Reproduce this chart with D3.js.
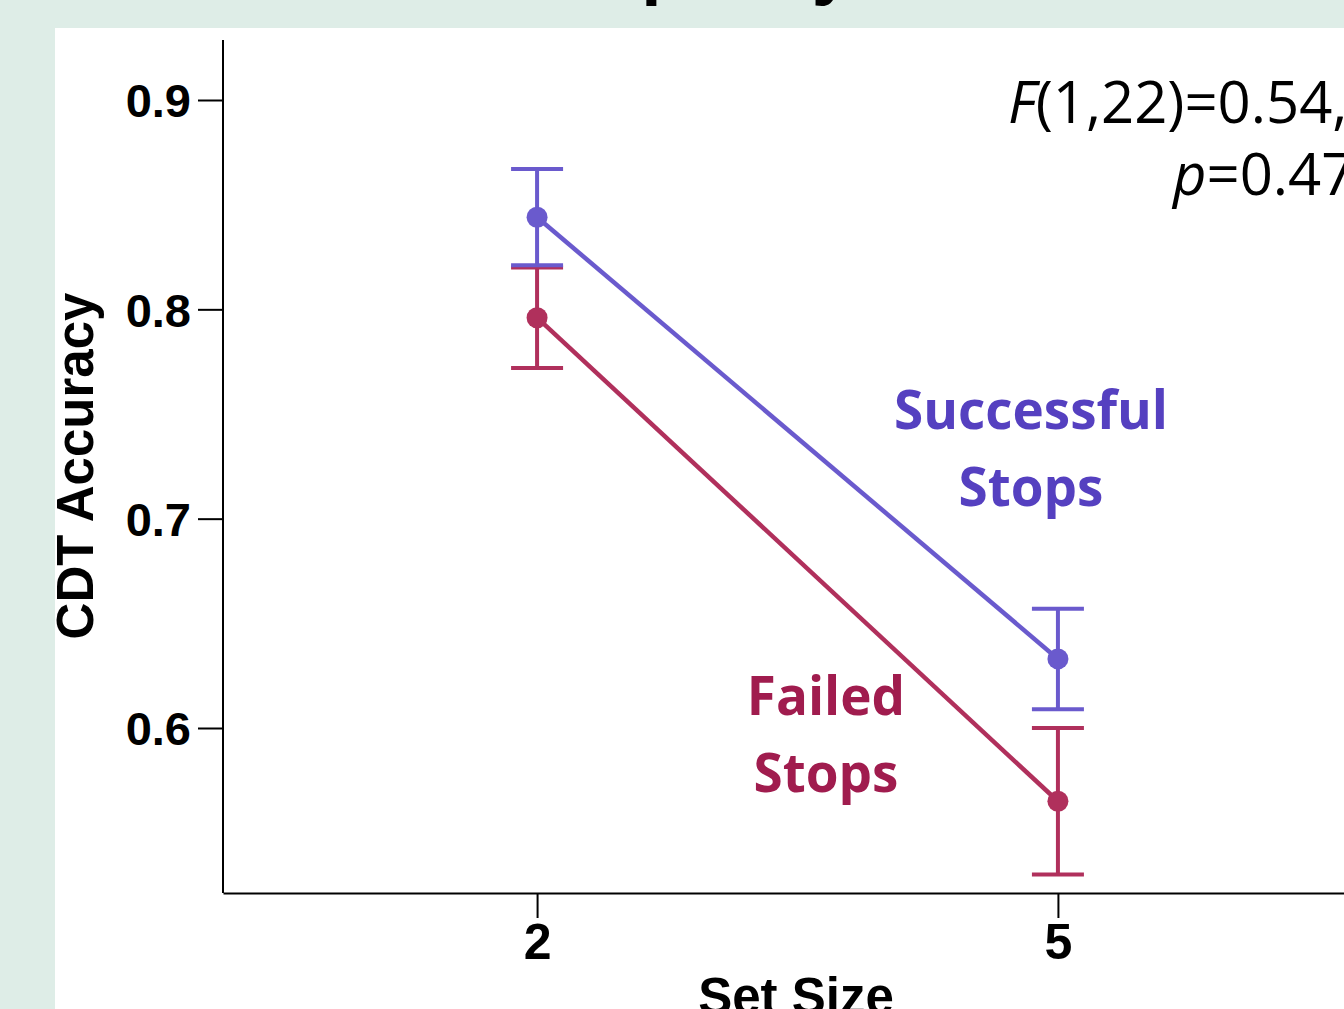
<!DOCTYPE html>
<html>
<head>
<meta charset="utf-8">
<script src="https://cdn.jsdelivr.net/npm/d3@7"></script>
<style>
  body { margin: 0; background: #deede7; overflow: hidden; }
  .axis text { font-family: Arial, "Liberation Sans", sans-serif; font-weight: bold; }
</style>
</head>
<body>
<div id="chart"></div>
<script>
// set sizes on the x axis
const setSizes = ['2', '5'];
// mean accuracy and error bar half-width per series
const successMeans = [0.844, 0.633];
const successErr = [0.023, 0.024];
const failedMeans = [0.796, 0.565];
const failedErr = [0.024, 0.035];
const yTicks = [0.6, 0.7, 0.8, 0.9];

const width = 1344, height = 1009;

const svg = d3.select('#chart')
    .append('svg')
    .attr('width', width)
    .attr('height', height);

// green poster background, white panel
svg.append('rect')
    .attr('width', width).attr('height', height)
    .attr('fill', '#deede7');
svg.append('rect')
    .attr('x', 55).attr('y', 28)
    .attr('width', width - 55).attr('height', height - 28)
    .attr('fill', '#ffffff');

// title, mostly cut off above the picture
svg.append('text')
    .attr('x', 548).attr('y', -9)
    .attr('font-family', 'Arial, "Liberation Sans", sans-serif')
    .attr('font-weight', 'bold')
    .attr('font-size', 73)
    .text('Capacity');

const x = d3.scalePoint()
    .domain(setSizes)
    .range([223, 1372])
    .padding(0.603);

const y = d3.scaleLinear()
    .domain([0.6, 0.9])
    .range([728, 100]);

const yAxis = svg.append('g')
    .attr('class', 'axis')
    .attr('transform', 'translate(223,0)')
    .call(d3.axisLeft(y).tickValues(yTicks).tickFormat(d3.format('.1f')).tickSize(25).tickSizeOuter(0));
yAxis.select('.domain').remove();
yAxis.append('line')
    .attr('x1', 0).attr('x2', 0)
    .attr('y1', 40).attr('y2', 893)
    .attr('stroke', '#000').attr('stroke-width', 2);
yAxis.selectAll('.tick line').attr('stroke-width', 2);
yAxis.selectAll('.tick text')
    .attr('font-size', 47)
    .attr('fill', '#000')
    .attr('x', -32)
    .attr('dy', '0.36em');

const xAxis = svg.append('g')
    .attr('class', 'axis')
    .attr('transform', 'translate(0,893)')
    .call(d3.axisBottom(x).tickSize(25).tickSizeOuter(0));
xAxis.select('.domain').attr('stroke-width', 2);
xAxis.selectAll('.tick line').attr('stroke-width', 2);
xAxis.selectAll('.tick text')
    .attr('font-size', 50)
    .attr('fill', '#000')
    .attr('y', 66)
    .attr('dy', 0);

svg.append('text')
    .attr('x', 796).attr('y', 1014)
    .attr('text-anchor', 'middle')
    .attr('font-family', 'Arial, "Liberation Sans", sans-serif')
    .attr('font-weight', 'bold')
    .attr('font-size', 51)
    .text('Set Size');

svg.append('text')
    .attr('transform', 'translate(93,466) rotate(-90)')
    .attr('text-anchor', 'middle')
    .attr('font-family', 'Arial, "Liberation Sans", sans-serif')
    .attr('font-weight', 'bold')
    .attr('font-size', 51)
    .text('CDT Accuracy');

const series = [
  { name: 'failed', means: failedMeans, err: failedErr, color: '#b0305c' },
  { name: 'success', means: successMeans, err: successErr, color: '#6a5acd' }
];

const line = d3.line()
    .x((d, i) => x(setSizes[i]))
    .y(d => y(d));

series.forEach(s => {
  const g = svg.append('g').attr('class', s.name);
  g.append('path')
      .datum(s.means)
      .attr('d', line)
      .attr('fill', 'none')
      .attr('stroke', s.color)
      .attr('stroke-width', 4.5);

  const bars = g.selectAll('.err')
      .data(s.means)
      .enter()
      .append('g')
      .attr('class', 'err');
  bars.append('line')
      .attr('x1', (d, i) => x(setSizes[i]))
      .attr('x2', (d, i) => x(setSizes[i]))
      .attr('y1', (d, i) => y(d + s.err[i]))
      .attr('y2', (d, i) => y(d - s.err[i]))
      .attr('stroke', s.color).attr('stroke-width', 4);
  [1, -1].forEach(sign => {
    bars.append('line')
        .attr('x1', (d, i) => x(setSizes[i]) - 26)
        .attr('x2', (d, i) => x(setSizes[i]) + 26)
        .attr('y1', (d, i) => y(d + sign * s.err[i]))
        .attr('y2', (d, i) => y(d + sign * s.err[i]))
        .attr('stroke', s.color).attr('stroke-width', 4);
  });
  bars.append('circle')
      .attr('cx', (d, i) => x(setSizes[i]))
      .attr('cy', d => y(d))
      .attr('r', 10.5)
      .attr('fill', s.color);
});

// series labels
const labelFont = '"Open Sans", "Noto Sans", sans-serif';
function label(lines, cx, y0, color) {
  const t = svg.append('text')
      .attr('text-anchor', 'middle')
      .attr('font-family', labelFont)
      .attr('font-weight', 'bold')
      .attr('font-size', 53)
      .attr('fill', color);
  lines.forEach((l, i) => {
    t.append('tspan').attr('x', cx).attr('y', y0 + i * 77).text(l);
  });
}
label(['Successful', 'Stops'], 1031, 429, '#5540c0');
label(['Failed', 'Stops'], 826, 715, '#a01c4e');

// statistics
const stats = svg.append('text')
    .attr('font-family', labelFont)
    .attr('font-size', 58)
    .attr('fill', '#000');
const l1 = stats.append('tspan').attr('x', 1008).attr('y', 123);
l1.append('tspan').attr('font-style', 'italic').text('F');
l1.append('tspan').text('(1,22)=0.54,');
const l2 = stats.append('tspan').attr('x', 1173).attr('y', 195);
l2.append('tspan').attr('font-style', 'italic').text('p');
l2.append('tspan').text('=0.47');
</script>
</body>
</html>
